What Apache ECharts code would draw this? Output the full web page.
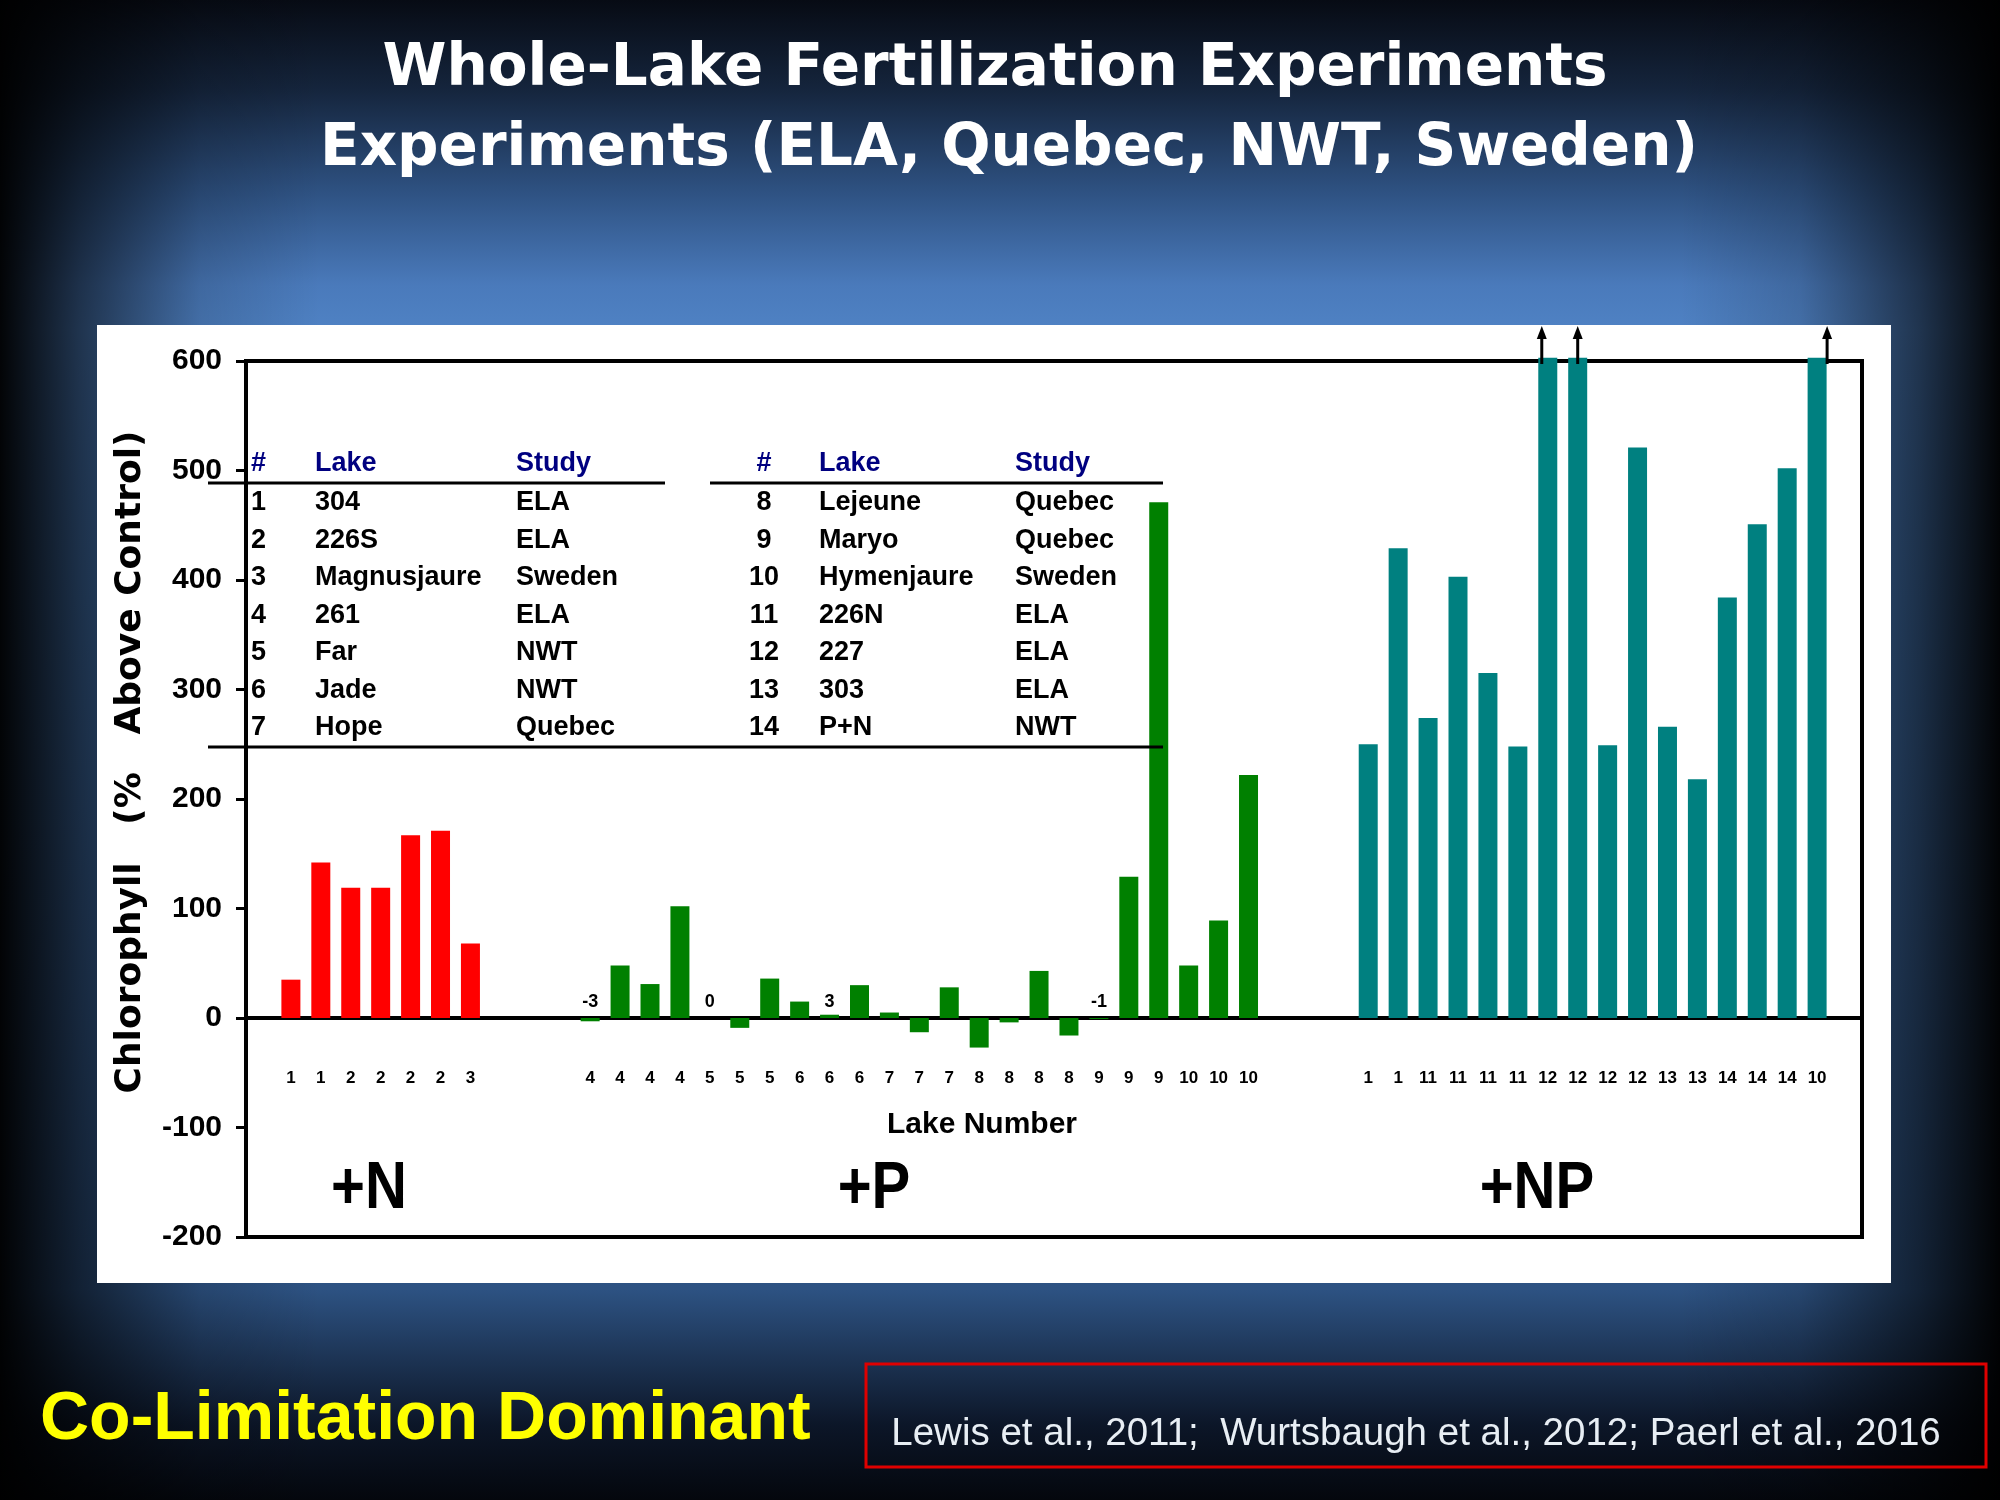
<!DOCTYPE html>
<html><head><meta charset="utf-8">
<script src="https://cdn.jsdelivr.net/npm/echarts/dist/echarts.min.js"></script>
<style>
html,body{margin:0;padding:0;width:2000px;height:1500px;overflow:hidden;background:#000;}
#chart{width:2000px;height:1500px;
background:
 linear-gradient(to right, rgba(0,0,0,0.97) 0%, rgba(0,0,0,0.6) 4%, rgba(0,0,0,0.15) 10%, rgba(0,0,0,0) 16%, rgba(0,0,0,0) 84%, rgba(0,0,0,0.15) 90%, rgba(0,0,0,0.6) 96%, rgba(0,0,0,0.97) 100%),
 linear-gradient(to bottom, #070b14 0%, #15253d 6%, #2f5384 13%, #4a7abb 19%, #4f82c4 22%, #4577b5 40%, #3a659c 65%, #2d5282 86%, #1b3150 91%, #0c1628 95%, #04070d 100%);
}
</style></head>
<body><div id="chart"></div>
<script>
// ---- data ----
const nLabels = ['1','1','2','2','2','2','3'];
const nValues = [35,142,119,119,167,171,68];
const pLabels = ['4','4','4','4','5','5','5','6','6','6','7','7','7','8','8','8','8','9','9','9','10','10','10'];
const pValues = [-3,48,31,102,0,-9,36,15,3,30,5,-13,28,-27,-4,43,-16,-1,129,471,48,89,222];
const npLabels = ['1','1','11','11','11','11','12','12','12','12','13','13','14','14','14','10'];
const npValues = [250,429,274,403,315,248,603,603,249,521,266,218,384,451,502,603];
const pAnnotated = [0,4,8,17];      // P bars whose value is printed
const npOffScale = [6,7,15];        // NP bars that run off the top of the axis
const yMin = -200, yMax = 600, yStep = 100;

const tableA = {
  nums: ['1','2','3','4','5','6','7'],
  lakes: ['304','226S','Magnusjaure','261','Far','Jade','Hope'],
  studies: ['ELA','ELA','Sweden','ELA','NWT','NWT','Quebec']
};
const tableB = {
  nums: ['8','9','10','11','12','13','14'],
  lakes: ['Lejeune','Maryo','Hymenjaure','226N','227','303','P+N'],
  studies: ['Quebec','Quebec','Sweden','ELA','ELA','ELA','NWT']
};
const titleLines = ['Whole-Lake Fertilization Experiments','Experiments (ELA, Quebec, NWT, Sweden)'];
const groupNames = ['+N','+P','+NP'];

// ---- build category axis ----
const GAP = 3;
const gapArr = () => Array(GAP).fill('');
const xLabels = [''].concat(nLabels, gapArr(), pLabels, gapArr(), npLabels, ['']);
const nStart = 1;
const pStart = nStart + nLabels.length + GAP;
const npStart = pStart + pLabels.length + GAP;
function place(vals, start){ const a = xLabels.map(()=>null); vals.forEach((v,i)=>{a[start+i]=v;}); return a; }

const FONT = '"Liberation Sans", Arial, sans-serif';
const arrowNudge = [-6, 0, 10];

// ---- graphic annotations ----
const g = [];
g.push({type:'rect', z:-10, shape:{x:97,y:325,width:1794,height:958}, style:{fill:'#ffffff'}});
g.push({type:'text', z:100, x:995, y:70, style:{text:titleLines[0], fill:'#fff', font:'bold 58px "DejaVu Sans", sans-serif', align:'center', verticalAlign:'middle'}});
g.push({type:'text', z:100, x:1009, y:150, style:{text:titleLines[1], fill:'#fff', font:'bold 58px "DejaVu Sans", sans-serif', align:'center', verticalAlign:'middle'}});
// y axis title
g.push({type:'text', z:100, x:131, y:762, rotation:Math.PI/2, style:{text:'Chlorophyll   (%   Above Control)', fill:'#000', font:'bold 36px "DejaVu Sans", sans-serif', align:'center', verticalAlign:'middle'}});
// x axis title
g.push({type:'text', z:100, x:982, y:1125, style:{text:'Lake Number', fill:'#000', font:'bold 30px '+FONT, align:'center', verticalAlign:'middle'}});
// group labels
[[369,groupNames[0]],[874,groupNames[1]],[1537,groupNames[2]]].forEach(([x,t])=>{
  g.push({type:'text', z:100, x:x, y:1190, scaleX:0.88, style:{text:t, fill:'#000', font:'bold 66px '+FONT, align:'center', verticalAlign:'middle'}});
});
// table
function addTable(tb, xNum, numAlign, xLake, xStudy){
  const hdr = 'bold 27px '+FONT;
  g.push({type:'text', z:100, x:xNum, y:464, style:{text:'#', fill:'#000080', font:hdr, align:numAlign, verticalAlign:'middle'}});
  g.push({type:'text', z:100, x:xLake, y:464, style:{text:'Lake', fill:'#000080', font:hdr, align:'left', verticalAlign:'middle'}});
  g.push({type:'text', z:100, x:xStudy, y:464, style:{text:'Study', fill:'#000080', font:hdr, align:'left', verticalAlign:'middle'}});
  tb.nums.forEach((n,i)=>{
    const y = 503 + i*37.5;
    g.push({type:'text', z:100, x:xNum, y:y, style:{text:n, fill:'#000', font:hdr, align:numAlign, verticalAlign:'middle'}});
    g.push({type:'text', z:100, x:xLake, y:y, style:{text:tb.lakes[i], fill:'#000', font:hdr, align:'left', verticalAlign:'middle'}});
    g.push({type:'text', z:100, x:xStudy, y:y, style:{text:tb.studies[i], fill:'#000', font:hdr, align:'left', verticalAlign:'middle'}});
  });
}
addTable(tableA, 251, 'left', 315, 516);
addTable(tableB, 764, 'center', 819, 1015);
g.push({type:'line', z:100, shape:{x1:208,y1:483,x2:665,y2:483}, style:{stroke:'#000', lineWidth:3}});
g.push({type:'line', z:100, shape:{x1:710,y1:483,x2:1163,y2:483}, style:{stroke:'#000', lineWidth:3}});
g.push({type:'line', z:100, shape:{x1:208,y1:747,x2:1163,y2:747}, style:{stroke:'#000', lineWidth:3}});
// footer
g.push({type:'text', z:100, x:40, y:1420, style:{text:'Co-Limitation Dominant', fill:'#ffff00', font:'bold 68px '+FONT, align:'left', verticalAlign:'middle'}});
g.push({type:'rect', z:100, shape:{x:866,y:1364,width:1120,height:103}, style:{fill:'transparent', stroke:'#e00000', lineWidth:3}});
g.push({type:'text', z:100, x:1416, y:1434, style:{text:'Lewis et al., 2011;  Wurtsbaugh et al., 2012; Paerl et al., 2016', fill:'#e8eef4', font:'38.5px '+FONT, align:'center', verticalAlign:'middle'}});

const chart = echarts.init(document.getElementById('chart'), null, {renderer:'canvas'});
chart.setOption({
  animation:false,
  backgroundColor:'transparent',
  grid:{left:246, right:138, top:361, bottom:263, show:true, borderColor:'#000', borderWidth:4, backgroundColor:'transparent', containLabel:false},
  xAxis:{
    type:'category', data:xLabels, position:'bottom',
    axisLine:{show:true, onZero:true, lineStyle:{color:'#000', width:4}},
    axisTick:{show:false},
    axisLabel:{show:false},
    splitLine:{show:false}
  },
  yAxis:{
    type:'value', min:yMin, max:yMax, interval:yStep,
    axisLine:{show:true, lineStyle:{color:'#000', width:4}},
    axisTick:{show:true, inside:false, length:10, lineStyle:{color:'#000', width:3}},
    axisLabel:{margin:24, color:'#000', fontSize:30, fontWeight:'bold', fontFamily:FONT},
    splitLine:{show:false}
  },
  graphic:{elements:g},
  series:[
    {name:'+N', type:'bar', data:place(nValues,nStart), barWidth:19, barGap:'-100%', clip:false, itemStyle:{color:'#ff0000'}},
    {name:'+P', type:'bar', data:place(pValues,pStart), barWidth:19, barGap:'-100%', clip:false, itemStyle:{color:'#008000'}},
    {name:'+NP', type:'bar', data:place(npValues,npStart), barWidth:19, barGap:'-100%', clip:false, itemStyle:{color:'#008080'}},
    {name:'lakeNumbers', type:'custom', clip:false, z:10,
      data: xLabels.map((l,i)=>[i,0]),
      renderItem:(params, api)=>{
        const p = api.coord([api.value(0), 0]);
        return {type:'text', x:p[0], y:p[1]+60, style:{text:xLabels[params.dataIndex], fill:'#000', font:'bold 17px '+FONT, align:'center', verticalAlign:'middle'}};
      }},
    {name:'values', type:'custom', clip:false, z:10,
      data: pAnnotated.map(i=>[pStart+i, pValues[i]]),
      renderItem:(params, api)=>{
        const p = api.coord([api.value(0), 0]);
        return {type:'text', x:p[0], y:p[1]-16, style:{text:String(api.value(1)), fill:'#000', font:'bold 18px '+FONT, align:'center', verticalAlign:'middle'}};
      }},
    {name:'arrows', type:'custom', clip:false, z:10,
      data: npOffScale.map(i=>[npStart+i, yMax]),
      renderItem:(params, api)=>{
        const p = api.coord([api.value(0), api.value(1)]);
        const x = p[0] + arrowNudge[params.dataIndex];
        return {type:'group', children:[
          {type:'line', shape:{x1:x, y1:p[1]+3, x2:x, y2:p[1]-24}, style:{stroke:'#000', lineWidth:3}},
          {type:'polygon', shape:{points:[[x-5,p[1]-22],[x+5,p[1]-22],[x,p[1]-35]]}, style:{fill:'#000'}}
        ]};
      }}
  ]
});
</script></body></html>
